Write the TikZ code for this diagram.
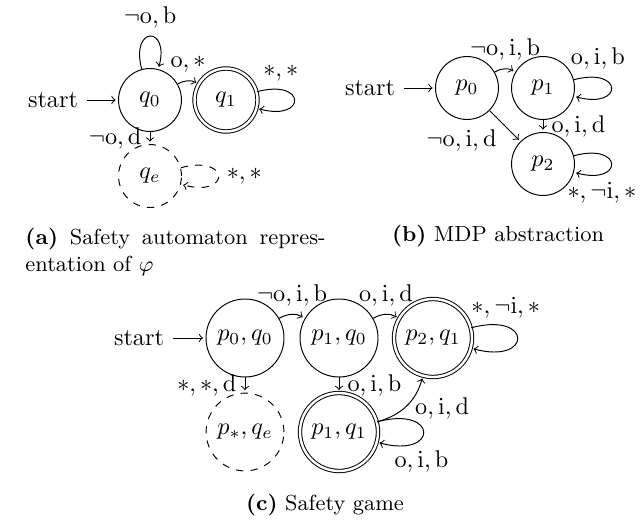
\documentclass[tikz,border=0pt]{standalone}
\usetikzlibrary{arrows}
\begin{document}
\begin{tikzpicture}[x=0.413pt,y=-0.413pt,
  stnode/.style={circle,draw,minimum size=26pt,inner sep=3.33pt},
  acc/.style={double,double distance=1pt},
  errst/.style={dashed},
  every edge/.style={draw,->,shorten >=1pt},
  capt/.style={font=\small,inner sep=0pt}]
\useasboundingbox (0,0) rectangle (643,525);
% ---------- (a) ----------
\node[stnode] (q0) at (150,100) {$q_0$};
\node[stnode,acc] (q1) at (226,100) {$q_1$};
\node[stnode,errst] (qe) at (150,176) {$q_e$};
\node (sa) at (53,100) {start};
\draw[->,shorten >=1pt] (sa) -- (q0);
\path (q0) edge[loop above,looseness=7] node[above] {$\neg\mathrm{o},\mathrm{b}$} (q0)
      (q0) edge[bend left] node[above] {$\mathrm{o},*$} (q1)
      (q1) edge[loop right] node[pos=0.2,above] {$*,*$} (q1)
      (q0) edge node[left] {$\neg\mathrm{o},\mathrm{d}$} (qe)
      (qe) edge[loop right,dashed] node[right] {$*,*$} (qe);
\node[capt,anchor=north west,text width=124pt,align=justify] (capa) at (25,228)
  {\textbf{(a)} Safety automaton repres-\linebreak entation of $\varphi$};
% ---------- (b) ----------
\node[stnode] (p0) at (467,88) {$p_0$};
\node[stnode] (p1) at (543,88) {$p_1$};
\node[stnode] (p2) at (543,164) {$p_2$};
\node (sb) at (370,88) {start};
\draw[->,shorten >=1pt] (sb) -- (p0);
\path (p0) edge[bend left] node[above] {$\neg\mathrm{o},\mathrm{i},\mathrm{b}$} (p1)
      (p0) edge node[below left,yshift=2pt] {$\neg\mathrm{o},\mathrm{i},\mathrm{d}$} (p2)
      (p1) edge node[right] {$\mathrm{o},\mathrm{i},\mathrm{d}$} (p2)
      (p1) edge[loop right] node[pos=0.2,above] {$\mathrm{o},\mathrm{i},\mathrm{b}$} (p1)
      (p2) edge[loop right] node[pos=0.75,below] {$*,\neg\mathrm{i},*$} (p2);
\node[capt] (capb) at (498,236) {\textbf{(b)} MDP abstraction};
% ---------- (c) ----------
\node[stnode] (s00) at (245,338) {$p_0,q_0$};
\node[stnode] (s10) at (339,338) {$p_1,q_0$};
\node[stnode,acc] (s21) at (433,338) {$p_2,q_1$};
\node[stnode,errst] (see) at (245,432) {$p_*,q_e$};
\node[stnode,acc] (s11) at (339,432) {$p_1,q_1$};
\node (sc) at (139,338) {start};
\draw[->,shorten >=1pt] (sc) -- (s00);
\path (s00) edge[bend left] node[above] {$\neg\mathrm{o},\mathrm{i},\mathrm{b}$} (s10)
      (s10) edge[bend left] node[above] {$\mathrm{o},\mathrm{i},\mathrm{d}$} (s21)
      (s21) edge[loop right] node[pos=0.25,above] {$*,\neg\mathrm{i},*$} (s21)
      (s00) edge node[left] {$*,*,\mathrm{d}$} (see)
      (s10) edge node[right] {$\mathrm{o},\mathrm{i},\mathrm{b}$} (s11)
      (s11) edge[bend right] node[right,yshift=-1pt] {$\mathrm{o},\mathrm{i},\mathrm{d}$} (s21)
      (s11) edge[loop right] node[pos=0.6,below,yshift=-2pt] {$\mathrm{o},\mathrm{i},\mathrm{b}$} (s11);
\node[capt] (capc) at (325,505) {\textbf{(c)} Safety game};
\end{tikzpicture}
\end{document}
